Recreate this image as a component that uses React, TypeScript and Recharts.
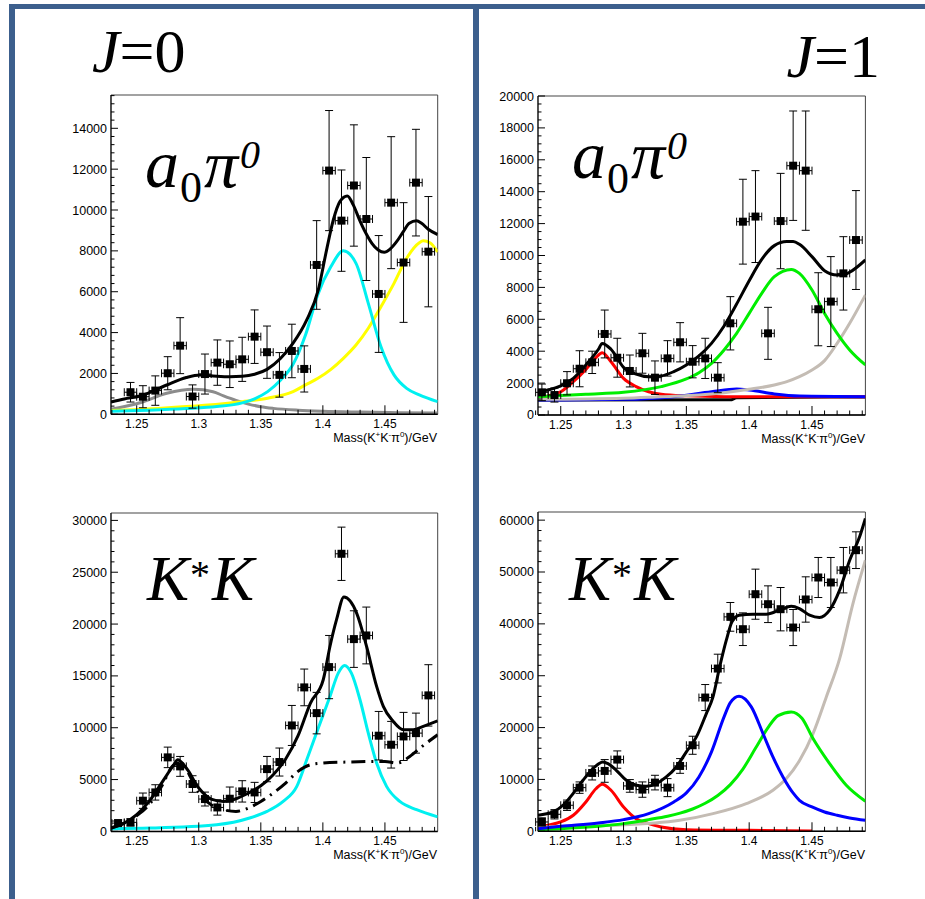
import React from "react";
import { ComposedChart, Line, Scatter, XAxis, YAxis, ErrorBar, ReferenceArea } from "recharts";

// ---------- shared binning / ticks ----------
const BIN_CENTERS = [1.235, 1.245, 1.255, 1.265, 1.275, 1.285, 1.295, 1.305, 1.315, 1.325, 1.335, 1.345, 1.355, 1.365, 1.375, 1.385, 1.395, 1.405, 1.415, 1.425, 1.435, 1.445, 1.455, 1.465, 1.475, 1.485];
const BIN_HALF_WIDTH = 0.005;

const X_MAJOR_TICKS = [1.25, 1.3, 1.35, 1.4, 1.45];
const X_TICK_LABELS = ["1.25", "1.3", "1.35", "1.4", "1.45"];
const X_MINOR_TICKS = [1.23, 1.24, 1.25, 1.26, 1.27, 1.28, 1.29, 1.3, 1.31, 1.32, 1.33, 1.34, 1.35, 1.36, 1.37, 1.38, 1.39, 1.4, 1.41, 1.42, 1.43, 1.44, 1.45, 1.46, 1.47, 1.48, 1.49];

// ---------- J=0, a0 pi0 ----------
const J0A_VALUES = [null, 1080, 860, 1160, 2010, 3360, 870, 1970, 2530, 2450, 2690, 3800, 3040, 1930, 3100, 2220, 7310, 11930, 9480, 11200, 9560, 5890, 10360, 7430, 11340, 7960];
const J0A_ERRORS = [null, 480, 540, 720, 810, 1370, 570, 980, 1110, 1140, 1080, 1310, 1280, 1090, 1310, 1130, 2170, 2940, 2480, 2970, 3010, 2860, 3230, 2930, 2610, 2700];
const J0A_TOTAL = [[1.2293, 600], [1.24, 750], [1.2527, 896], [1.2742, 1434], [1.29, 1800], [1.301, 1924], [1.3115, 1880], [1.325, 1840], [1.335, 1860], [1.345, 1960], [1.355, 2200], [1.366, 2740], [1.376, 3480], [1.387, 4620], [1.3963, 6090], [1.403, 8050], [1.4084, 9510], [1.4137, 10410], [1.4197, 10690], [1.4245, 10250], [1.4296, 9510], [1.4347, 8860], [1.4395, 8370], [1.4446, 8040], [1.4495, 7930], [1.454, 8080], [1.4594, 8450], [1.4648, 8940], [1.4696, 9350], [1.4755, 9470], [1.4795, 9350], [1.4849, 9060], [1.4925, 8800]];
const J0A_CYAN = [[1.2293, 150], [1.26, 200], [1.29, 280], [1.3145, 380], [1.335, 560], [1.345, 760], [1.3555, 1110], [1.366, 1680], [1.376, 2450], [1.386, 3880], [1.3958, 5840], [1.4065, 7230], [1.4165, 8000], [1.4267, 7390], [1.4366, 5430], [1.4468, 3310], [1.4573, 1930], [1.4675, 1270], [1.4777, 950], [1.4925, 620]];
const J0A_YELLOW = [[1.2293, 180], [1.27, 300], [1.3045, 440], [1.335, 620], [1.3555, 790], [1.376, 1110], [1.386, 1440], [1.396, 1760], [1.4065, 2200], [1.4165, 2740], [1.4267, 3390], [1.4366, 4210], [1.4468, 5270], [1.4573, 6410], [1.4675, 7640], [1.4777, 8400], [1.481, 8490], [1.4862, 8400], [1.4925, 7950]];
const J0A_GRAY = [[1.2293, 250], [1.2527, 568], [1.2742, 1028], [1.2956, 1224], [1.3115, 1106], [1.32, 900], [1.33, 680], [1.34, 500], [1.35, 370], [1.36, 290], [1.38, 200], [1.4, 150], [1.43, 110], [1.46, 80], [1.4925, 60]];
const J0A_Y_MAJOR = [0, 2000, 4000, 6000, 8000, 10000, 12000, 14000];

// ---------- J=1, a0 pi0 ----------
const J1A_VALUES = [1420, 1250, 1990, 2900, 3300, 5080, 3590, 2760, 3870, 2340, 3550, 4560, 3340, 3550, 2340, 5750, 12120, 12440, 5120, 12160, 15630, 15320, 6630, 7110, 8880, 10970];
const J1A_ERRORS = [520, 440, 730, 1130, 700, 1500, 1220, 1000, 1250, 1050, 1110, 1230, 1010, 1260, 940, 1670, 2660, 2880, 1630, 2990, 3430, 3740, 2290, 2820, 2300, 3100];
const J1A_TOTAL = [[1.2319, 1460], [1.24, 1570], [1.25, 1820], [1.26, 2300], [1.27, 3140], [1.28, 4120], [1.283, 4490], [1.29, 4120], [1.3, 2990], [1.31, 2570], [1.32, 2400], [1.33, 2450], [1.34, 2720], [1.35, 3140], [1.36, 3700], [1.37, 4490], [1.38, 5580], [1.39, 6960], [1.4, 8420], [1.41, 9760], [1.42, 10620], [1.43, 10870], [1.435, 10870], [1.44, 10700], [1.45, 9930], [1.46, 9050], [1.47, 8780], [1.475, 8780], [1.48, 8950], [1.4925, 9720]];
const J1A_RED = [[1.2319, 1000], [1.24, 1190], [1.25, 1460], [1.26, 2090], [1.27, 2860], [1.278, 3600], [1.283, 3910], [1.29, 3340], [1.3, 2300], [1.31, 1780], [1.32, 1460], [1.33, 1300], [1.35, 1200], [1.38, 1150], [1.4925, 1150]];
const J1A_GREEN = [[1.2319, 1150], [1.27, 1300], [1.3, 1420], [1.33, 1780], [1.35, 2260], [1.36, 2650], [1.37, 3240], [1.38, 4080], [1.39, 5120], [1.4, 6370], [1.41, 7630], [1.42, 8670], [1.4335, 9130], [1.44, 8880], [1.45, 7840], [1.46, 6370], [1.47, 5120], [1.48, 4080], [1.4925, 3140]];
const J1A_BEIGE = [[1.2319, 980], [1.3, 1050], [1.33, 1150], [1.36, 1250], [1.38, 1400], [1.4, 1610], [1.42, 1880], [1.43, 2090], [1.44, 2400], [1.45, 2820], [1.46, 3410], [1.47, 4490], [1.48, 5750], [1.4925, 7520]];
const J1A_BLUE = [[1.2319, 940], [1.3, 980], [1.34, 1150], [1.37, 1460], [1.39, 1630], [1.4, 1570], [1.42, 1320], [1.44, 1190], [1.4925, 1150]];
const J1A_FLAT = [[1.2319, 940], [1.385, 950], [1.39, 1080], [1.4925, 1130]];
const J1A_Y_MAJOR = [0, 2000, 4000, 6000, 8000, 10000, 12000, 14000, 16000, 18000, 20000];

// ---------- J=0, K*K ----------
const J0K_VALUES = [800, 870, 2960, 3760, 7140, 6270, 4570, 3120, 2310, 3150, 3860, 3760, 6010, 6690, 10220, 13890, 11410, 15850, 26780, 18550, 18900, 9230, 8360, 9160, 9480, 13120];
const J0K_ERRORS = [300, 350, 740, 740, 990, 960, 800, 670, 740, 1130, 1030, 970, 1220, 1350, 1930, 1770, 2000, 3050, 2570, 2730, 2740, 2340, 2250, 2320, 1930, 2960];
const J0K_TOTAL = [[1.2293, 320], [1.24, 800], [1.25, 1610], [1.26, 2890], [1.27, 4660], [1.28, 6430], [1.283, 6910], [1.29, 6110], [1.3, 4180], [1.31, 3120], [1.32, 2890], [1.33, 3150], [1.34, 3700], [1.35, 4400], [1.36, 5470], [1.37, 6980], [1.38, 9230], [1.39, 12380], [1.4003, 14630], [1.4057, 17840], [1.411, 20420], [1.417, 22600], [1.4272, 21060], [1.4352, 17840], [1.4433, 13990], [1.4487, 12060], [1.4567, 10610], [1.4648, 9810], [1.4728, 9810], [1.4809, 10130], [1.4925, 10670]];
const J0K_CYAN = [[1.2293, 260], [1.2607, 320], [1.3144, 640], [1.341, 1290], [1.355, 1930], [1.368, 2890], [1.379, 4340], [1.387, 6910], [1.3958, 9810], [1.4057, 13020], [1.4124, 15270], [1.4175, 16010], [1.423, 15270], [1.4299, 12700], [1.4366, 9480], [1.4433, 6590], [1.4513, 4340], [1.462, 2890], [1.4755, 2090], [1.4925, 1400]];
const J0K_DASHDOT = [[1.2293, 320], [1.25, 1510], [1.26, 2570], [1.27, 4340], [1.28, 6430], [1.285, 6590], [1.29, 5950], [1.3, 3700], [1.31, 2570], [1.32, 2090], [1.33, 1930], [1.34, 2250], [1.35, 2890], [1.36, 3700], [1.37, 4660], [1.38, 5790], [1.39, 6430], [1.4, 6590], [1.42, 6690], [1.45, 6750], [1.46, 6590], [1.47, 7230], [1.48, 8200], [1.4925, 9320]];
const J0K_Y_MAJOR = [0, 5000, 10000, 15000, 20000, 25000, 30000];

// ---------- J=1, K*K ----------
const J1K_VALUES = [1800, 3280, 5020, 8420, 11250, 11640, 13830, 8750, 8040, 9390, 8420, 12600, 16590, 25790, 31380, 41350, 38970, 45720, 43790, 42830, 39290, 44700, 48940, 47980, 50350, 54210];
const J1K_ERRORS = [800, 900, 1000, 1100, 1350, 2190, 1670, 1220, 1480, 1410, 1740, 1420, 1740, 2510, 2770, 2770, 3150, 4830, 3540, 4180, 3480, 4370, 3860, 4820, 4380, 3540];
const J1K_TOTAL = [[1.2319, 3090], [1.2438, 3730], [1.2518, 5020], [1.2598, 7270], [1.2677, 9840], [1.2757, 12090], [1.2836, 13380], [1.2876, 13050], [1.2942, 11770], [1.3022, 9840], [1.3102, 8870], [1.3181, 8680], [1.3261, 9200], [1.334, 10480], [1.342, 12410], [1.35, 15310], [1.358, 18200], [1.3659, 22700], [1.3712, 25920], [1.3765, 31700], [1.3818, 36850], [1.3863, 40390], [1.392, 41670], [1.403, 41870], [1.4136, 41870], [1.4242, 42640], [1.4335, 43410], [1.44, 42960], [1.4481, 41670], [1.456, 41220], [1.464, 42640], [1.472, 46500], [1.48, 52280], [1.4879, 56790], [1.4925, 60320]];
const J1K_RED = [[1.2319, 800], [1.24, 1160], [1.25, 1800], [1.26, 3090], [1.27, 5660], [1.278, 8200], [1.283, 9070], [1.29, 7910], [1.3, 4690], [1.31, 2440], [1.32, 1480], [1.33, 840], [1.35, 320], [1.4, 190], [1.45, 60]];
const J1K_BLUE = [[1.2319, 510], [1.25, 960], [1.28, 1610], [1.3, 2250], [1.32, 3410], [1.34, 5660], [1.35, 7400], [1.36, 10480], [1.37, 15310], [1.38, 22060], [1.385, 24800], [1.3919, 26040], [1.4017, 23990], [1.411, 18840], [1.4189, 14340], [1.4269, 10480], [1.4349, 7400], [1.44, 5980], [1.45, 4690], [1.46, 3730], [1.47, 3090], [1.48, 2570], [1.4925, 2120]];
const J1K_GREEN = [[1.2319, 320], [1.25, 510], [1.28, 960], [1.3, 1480], [1.32, 2250], [1.335, 2900], [1.345, 3500], [1.355, 4300], [1.365, 5400], [1.375, 6900], [1.385, 9000], [1.395, 12000], [1.405, 16000], [1.415, 20000], [1.423, 22300], [1.4335, 23020], [1.442, 21800], [1.4508, 17880], [1.464, 13050], [1.4773, 8870], [1.4925, 5790]];
const J1K_BEIGE = [[1.2319, 840], [1.2916, 1160], [1.3447, 2120], [1.3712, 3410], [1.3977, 5340], [1.4189, 7910], [1.4296, 10160], [1.4402, 13700], [1.4508, 18840], [1.4614, 25920], [1.472, 33310], [1.4826, 43920], [1.4925, 52280]];
const J1K_Y_MAJOR = [0, 10000, 20000, 30000, 40000, 50000, 60000];

// ---------- helpers ----------
const near = (a: number, b: number) => Math.abs(a - b) < 1e-6;
const steps = (max: number, step: number) => {
  const out: number[] = [];
  for (let v = 0; v <= max + 1e-9; v += step) out.push(v);
  return out;
};
const toPts = (arr: number[][]) => arr.map(([x, y]) => ({ x, y }));
const toData = (vals: (number | null)[], errs: (number | null)[]) =>
  BIN_CENTERS.map((x, i) => ({ x, y: vals[i], ex: BIN_HALF_WIDTH, ey: errs[i] })).filter((d) => d.y != null);

const SANS = "'Liberation Sans', Arial, Helvetica, sans-serif";
const SERIF = "'Liberation Serif', 'Times New Roman', serif";

const makeXTick = () => (props: any) => {
  const { x, y, payload } = props;
  const idx = X_MAJOR_TICKS.findIndex((m) => near(m, payload.value));
  const major = idx >= 0;
  return (
    <g>
      <line x1={x} x2={x} y1={y} y2={y - (major ? 9 : 4.5)} stroke="#000" strokeWidth={1} />
      {major && (
        <text x={x} y={y + 14} textAnchor="middle" fontFamily={SANS} fontSize={12} fill="#000">
          {X_TICK_LABELS[idx]}
        </text>
      )}
    </g>
  );
};

const makeYTick = (majors: number[]) => (props: any) => {
  const { x, y, payload } = props;
  const major = majors.some((m) => near(m, payload.value));
  return (
    <g>
      <line x1={x} x2={x + (major ? 7 : 3.5)} y1={y} y2={y} stroke="#000" strokeWidth={1} />
      {major && (
        <text x={x - 4} y={y + 4.5} textAnchor="end" fontFamily={SANS} fontSize={12.5} fill="#000">
          {payload.value}
        </text>
      )}
    </g>
  );
};

const Square = (p: any) =>
  p.cx == null ? null : <rect x={p.cx - 4} y={p.cy - 4} width={8} height={8} fill="#000" />;

type Curve = { data: number[][]; color: string; dash?: string; width?: number };
type PanelCfg = {
  left: number; right: number; top: number; bottom: number;
  xDomain: [number, number]; yMax: number; yMajor: number[]; yMinorStep: number;
  points: any[]; curves: Curve[];
};

const YW = 60, XH = 40, MT = 5, MR = 5;

function Panel({ cfg }: { cfg: PanelCfg }) {
  const plotW = cfg.right - cfg.left;
  const plotH = cfg.bottom - cfg.top;
  return (
    <div style={{ position: "absolute", left: cfg.left - YW, top: cfg.top - MT }}>
      <ComposedChart width={YW + plotW + MR} height={MT + plotH + XH} margin={{ top: MT, right: MR, bottom: 0, left: 0 }}>
        <XAxis
          type="number" dataKey="x" domain={cfg.xDomain} allowDataOverflow
          ticks={X_MINOR_TICKS} interval={0} tickLine={false} tickSize={0} tickMargin={0}
          height={XH} axisLine={{ stroke: "#000", strokeWidth: 1.5 }} tick={makeXTick()}
        />
        <YAxis
          type="number" domain={[0, cfg.yMax]} allowDataOverflow
          ticks={steps(cfg.yMax, cfg.yMinorStep)} interval={0} tickLine={false} tickSize={0} tickMargin={0}
          width={YW} axisLine={{ stroke: "#000", strokeWidth: 1 }} tick={makeYTick(cfg.yMajor)}
        />
        <ReferenceArea x1={cfg.xDomain[0]} x2={cfg.xDomain[1]} y1={0} y2={cfg.yMax} fill="none" fillOpacity={0} stroke="#444" strokeWidth={1} ifOverflow="visible" />
        {cfg.curves.map((c, i) => (
          <Line
            key={i} data={toPts(c.data)} dataKey="y" type="monotone" stroke={c.color}
            strokeWidth={c.width ?? 3} strokeDasharray={c.dash} dot={false} activeDot={false}
            isAnimationActive={false} legendType="none"
          />
        ))}
        <Scatter data={cfg.points} dataKey="y" shape={Square} isAnimationActive={false}>
          <ErrorBar dataKey="ex" direction="x" width={4} stroke="#000" strokeWidth={1} />
          <ErrorBar dataKey="ey" direction="y" width={4} stroke="#000" strokeWidth={1} />
        </Scatter>
      </ComposedChart>
    </div>
  );
}

const PANELS: PanelCfg[] = [
  {
    left: 111, right: 437.7, top: 95, bottom: 414.3, xDomain: [1.2293, 1.4925], yMax: 15630,
    yMajor: J0A_Y_MAJOR, yMinorStep: 400, points: toData(J0A_VALUES, J0A_ERRORS),
    curves: [
      { data: J0A_GRAY, color: "#8c8c8c" },
      { data: J0A_YELLOW, color: "#ffff00" },
      { data: J0A_CYAN, color: "#00f0f0" },
      { data: J0A_TOTAL, color: "#000000" },
    ],
  },
  {
    left: 538.3, right: 865.7, top: 96, bottom: 415, xDomain: [1.2319, 1.4925], yMax: 20000,
    yMajor: J1A_Y_MAJOR, yMinorStep: 500, points: toData(J1A_VALUES, J1A_ERRORS),
    curves: [
      { data: J1A_FLAT, color: "#000000" },
      { data: J1A_RED, color: "#ff0000" },
      { data: J1A_BLUE, color: "#0000ff" },
      { data: J1A_BEIGE, color: "#c4bcb4" },
      { data: J1A_GREEN, color: "#00ee00" },
      { data: J1A_TOTAL, color: "#000000" },
    ],
  },
  {
    left: 111, right: 437.7, top: 513.3, bottom: 831.7, xDomain: [1.2293, 1.4925], yMax: 30714,
    yMajor: J0K_Y_MAJOR, yMinorStep: 1000, points: toData(J0K_VALUES, J0K_ERRORS),
    curves: [
      { data: J0K_CYAN, color: "#00f0f0" },
      { data: J0K_DASHDOT, color: "#000000", dash: "14 6 2 6" },
      { data: J0K_TOTAL, color: "#000000" },
    ],
  },
  {
    left: 538.3, right: 865.7, top: 511.7, bottom: 831, xDomain: [1.2319, 1.4925], yMax: 61570,
    yMajor: J1K_Y_MAJOR, yMinorStep: 2000, points: toData(J1K_VALUES, J1K_ERRORS),
    curves: [
      { data: J1K_RED, color: "#ff0000" },
      { data: J1K_BEIGE, color: "#c4bcb4" },
      { data: J1K_GREEN, color: "#00ee00" },
      { data: J1K_BLUE, color: "#0000ff" },
      { data: J1K_TOTAL, color: "#000000" },
    ],
  },
];

const AxisTitle = ({ x, y }: { x: number; y: number }) => (
  <text x={x} y={y} textAnchor="end" fontFamily={SANS} fontSize={12.5} fill="#000">
    Mass(K<tspan dy={-5} fontSize={8}>+</tspan>
    <tspan dy={5}>K</tspan>
    <tspan dy={-5} fontSize={8}>-</tspan>
    <tspan dy={5}>π</tspan>
    <tspan dy={-5} fontSize={8}>0</tspan>
    <tspan dy={5}>)/GeV</tspan>
  </text>
);

const A0Pi0 = ({ x, y }: { x: number; y: number }) => (
  <text x={x} y={y} fontFamily={SERIF} fill="#000" fontSize={68}>
    <tspan fontStyle="italic">a</tspan>
    <tspan fontSize={44} dx={1} dy={15}>0</tspan>
    <tspan fontStyle="italic" dx={2} dy={-15}>π</tspan>
    <tspan fontSize={40} fontStyle="italic" dx={2} dy={-19}>0</tspan>
  </text>
);

const KstarK = ({ x, y }: { x: number; y: number }) => (
  <text x={x} y={y} fontFamily={SERIF} fill="#000" fontSize={63}>
    <tspan fontStyle="italic">K</tspan>
    <tspan fontSize={40} dx={1} dy={-12}>*</tspan>
    <tspan fontStyle="italic" dx={2} dy={12}>K</tspan>
  </text>
);

export default function App() {
  const frame = "#3c5f8d";
  return (
    <div style={{ position: "absolute", left: 0, top: 0, width: 925, height: 899, background: "#fff", overflow: "hidden" }}>
      {PANELS.map((p, i) => (
        <Panel key={i} cfg={p} />
      ))}
      <svg width={925} height={899} style={{ position: "absolute", left: 0, top: 0, pointerEvents: "none" }}>
        <rect x={9} y={4} width={916} height={5} fill={frame} />
        <rect x={9} y={4} width={6} height={895} fill={frame} />
        <rect x={473} y={4} width={6} height={895} fill={frame} />

        <text x={92} y={72} fontFamily={SERIF} fontSize={62} fill="#000">
          <tspan fontStyle="italic">J</tspan>=0
        </text>
        <text x={880} y={77} textAnchor="end" fontFamily={SERIF} fontSize={62} fill="#000">
          <tspan fontStyle="italic">J</tspan>=1
        </text>

        <A0Pi0 x={145} y={187} />
        <A0Pi0 x={572} y={178} />
        <KstarK x={147} y={600} />
        <KstarK x={569} y={600} />

        <AxisTitle x={437} y={442} />
        <AxisTitle x={865} y={443} />
        <AxisTitle x={437} y={859} />
        <AxisTitle x={865} y={859} />
      </svg>
    </div>
  );
}
